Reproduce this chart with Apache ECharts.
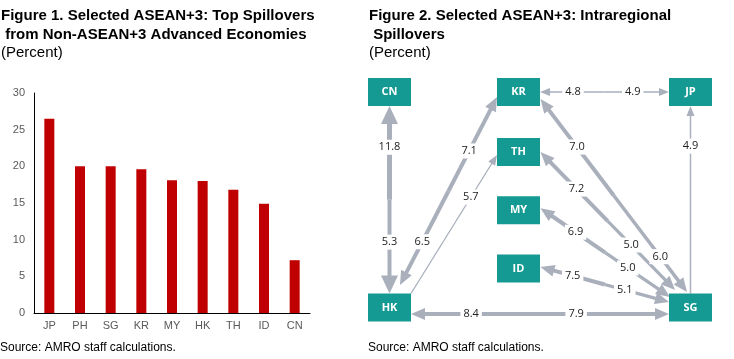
<!DOCTYPE html>
<html><head><meta charset="utf-8">
<script src="https://cdn.jsdelivr.net/npm/echarts@6/dist/echarts.min.js"></script>
<style>html,body{margin:0;padding:0;background:#fff}#c{width:734px;height:359px}</style>
</head><body><div id="c"></div>
<script>
// ---- Figure 1 data ----
const categories = ['JP','PH','SG','KR','MY','HK','TH','ID','CN'];
const spillovers = [26.5, 20.0, 20.0, 19.6, 18.1, 18.0, 16.8, 14.9, 7.2];
const yTicks = [0, 5, 10, 15, 20, 25, 30];

// ---- Figure 2 data ----
const nodes = ['CN','KR','JP','TH','MY','ID','HK','SG'];
const linkSources = ['HK','CN','JP','KR','SG','HK','KR','HK','SG','KR','SG','TH','SG','MY','SG','ID','SG','HK'];
const linkTargets = ['CN','HK','KR','JP','JP','KR','HK','TH','KR','SG','TH','SG','MY','SG','ID','SG','HK','SG'];
const linkValues  = [11.8, 5.3, 4.8, 4.9, 4.9, 7.1, 6.5, 5.7, 7.0, 6.0, 7.2, 5.0, 6.9, 5.0, 7.5, 5.1, 8.4, 7.9];

// ---- layout / style (not data) ----
const nodePos = {CN:[0,0], KR:[3,0], JP:[7,0], TH:[3,2.05], MY:[3,4.03], ID:[3,6.02], HK:[0,7.35], SG:[7,7.35]};
// anchor offsets (px from node centre) where each connector meets a node
const anchors = {
  'CN|HK': {CN:[0,14], HK:[0,-14]},
  'JP|KR': {KR:[21.5,0], JP:[-21.5,0]},
  'JP|SG': {JP:[0,14], SG:[0,-14]},
  'HK|KR': {HK:[10.5,-22.5], KR:[-21.5,5]},
  'HK|TH': {HK:[21.5,-14], TH:[-21.5,3]},
  'KR|SG': {KR:[22,7], SG:[-3.5,-15.5]},
  'SG|TH': {TH:[22,0], SG:[-15.5,-17.5]},
  'MY|SG': {MY:[22,-2], SG:[-20.5,-10.5]},
  'ID|SG': {ID:[22,-1.5], SG:[-21.5,-5.5]},
  'HK|SG': {HK:[21.5,6.5], SG:[-21.5,6.5]}
};
// per link: line width, arrow head [length, width], label position (fraction from arrow tip)
const linkStyle = [
  {w:5, head:[18,17], t:0.22}, {w:4, head:[18,17], t:0.274},
  {w:1.5, head:[10,8], t:0.256}, {w:1.5, head:[10,8], t:0.281},
  {w:1.5, head:[10,8], t:0.214},
  {w:4, head:[14,12], t:0.287}, {w:4, head:[14,12], t:0.23},
  {w:1.3, head:[10,8], t:0.304},
  {w:4, head:[14,12], t:0.249}, {w:3.5, head:[14,12], t:0.183},
  {w:4, head:[14,12], t:0.268}, {w:3.2, head:[14,12], t:0.326},
  {w:4, head:[14,12], t:0.271}, {w:3.2, head:[14,12], t:0.326},
  {w:4, head:[14,12], t:0.25}, {w:3.2, head:[14,12], t:0.344},
  {w:4, head:[14,12], t:0.233}, {w:4, head:[14,12], t:0.36}
];
const LINE = '#A9B0BC';
const TEAL = '#159A93';
const BOX = [43, 28];

function pairKey(a, b) { return [a, b].sort().join('|'); }

function geom(i, api) {
  const s = linkSources[i], t = linkTargets[i];
  const anc = anchors[pairKey(s, t)];
  const cs = api.coord(nodePos[s]), ct = api.coord(nodePos[t]);
  const A = [cs[0] + anc[s][0], cs[1] + anc[s][1]];
  const B = [ct[0] + anc[t][0], ct[1] + anc[t][1]];
  let bidir = false;
  for (let k = 0; k < linkSources.length; k++) if (linkSources[k] === t && linkTargets[k] === s) bidir = true;
  return {A, B, bidir};
}

function renderLink(params, api) {
  const i = api.value(2);
  const st = linkStyle[i];
  const {A, B, bidir} = geom(i, api);
  const dx = B[0] - A[0], dy = B[1] - A[1], L = Math.hypot(dx, dy), ux = dx / L, uy = dy / L;
  const start = bidir ? [(A[0] + B[0]) / 2, (A[1] + B[1]) / 2] : A;
  const [hl, hw] = st.head;
  const base = [B[0] - ux * hl, B[1] - uy * hl];
  return {type: 'group', children: [
    {type: 'line', shape: {x1: start[0], y1: start[1], x2: base[0] + ux, y2: base[1] + uy},
     style: {stroke: LINE, lineWidth: st.w}},
    {type: 'polygon', shape: {points: [B, [base[0] - uy * hw / 2, base[1] + ux * hw / 2], [base[0] + uy * hw / 2, base[1] - ux * hw / 2]]},
     style: {fill: LINE}}
  ]};
}

function renderLinkLabel(params, api) {
  const i = api.value(2);
  const st = linkStyle[i];
  const {A, B} = geom(i, api);
  const x = B[0] - (B[0] - A[0]) * st.t, y = B[1] - (B[1] - A[1]) * st.t;
  return {type: 'text', x: x, y: y, style: {text: linkValues[i].toFixed(1), fill: '#222',
    font: '11px "Open Sans"', align: 'center', verticalAlign: 'middle',
    backgroundColor: '#fff', padding: [2, 3]}};
}

function renderNode(params, api) {
  const c = api.coord([api.value(0), api.value(1)]);
  return {type: 'group', children: [
    {type: 'rect', shape: {x: c[0] - BOX[0] / 2, y: c[1] - BOX[1] / 2, width: BOX[0], height: BOX[1]}, style: {fill: TEAL}},
    {type: 'text', x: c[0], y: c[1], style: {text: nodes[params.dataIndex], fill: '#fff',
      font: 'bold 11px "Open Sans"', align: 'center', verticalAlign: 'middle'}}
  ]};
}

const linkData = linkSources.map((s, i) => [nodePos[s][0], nodePos[s][1], i]);
const nodeData = nodes.map(n => [nodePos[n][0], nodePos[n][1]]);

const chart = echarts.init(document.getElementById('c'), null, {renderer: 'canvas'});
const titleFont = 'Liberation Sans';
const tStyle = {fontFamily: titleFont, fontSize: 15, fontWeight: 'bold', color: '#000', lineHeight: 18.3};
const sStyle = {fontFamily: titleFont, fontSize: 15, color: '#000', lineHeight: 18.3};
chart.setOption({
  animation: false,
  backgroundColor: '#fff',
  title: [
    {left: 1, top: 7, text: 'Figure 1. Selected ASEAN+3: Top Spillovers\n from Non-ASEAN+3 Advanced Economies',
     subtext: '(Percent)', itemGap: 0, padding: 0, textStyle: tStyle, subtextStyle: sStyle},
    {left: 369, top: 7, text: 'Figure 2. Selected ASEAN+3: Intraregional\n Spillovers',
     subtext: '(Percent)', itemGap: 0, padding: 0, textStyle: tStyle, subtextStyle: sStyle}
  ],
  graphic: [
    {type: 'text', left: 0, top: 342, style: {text: 'Source: AMRO staff calculations.', font: '12px "Liberation Sans"', fill: '#000'}},
    {type: 'text', left: 368, top: 342, style: {text: 'Source: AMRO staff calculations.', font: '12px "Liberation Sans"', fill: '#000'}}
  ],
  grid: [
    {left: 34, top: 93, width: 276, height: 220, containLabel: false, outerBoundsMode: 'none'},
    {left: 389.5, top: 92, width: 301, height: 215.5, containLabel: false, outerBoundsMode: 'none'}
  ],
  xAxis: [
    {type: 'category', data: categories, gridIndex: 0,
     axisLine: {lineStyle: {color: '#000', width: 1}}, axisTick: {show: false},
     axisLabel: {color: '#595959', fontSize: 11, fontFamily: 'Liberation Sans', margin: 7}},
    {type: 'value', gridIndex: 1, min: 0, max: 7, show: false}
  ],
  yAxis: [
    {type: 'value', gridIndex: 0, min: yTicks[0], max: yTicks[yTicks.length - 1], interval: yTicks[1] - yTicks[0],
     axisLine: {show: true, lineStyle: {color: '#000', width: 1}}, axisTick: {show: false}, splitLine: {show: false},
     axisLabel: {color: '#595959', fontSize: 11, fontFamily: 'Liberation Sans', margin: 9}},
    {type: 'value', gridIndex: 1, min: 0, max: 7.35, inverse: true, show: false}
  ],
  series: [
    {type: 'bar', xAxisIndex: 0, yAxisIndex: 0, data: spillovers, barWidth: 10, itemStyle: {color: '#C00000'}},
    {type: 'custom', xAxisIndex: 1, yAxisIndex: 1, data: linkData, renderItem: renderLink, z: 2, silent: true},
    {type: 'custom', xAxisIndex: 1, yAxisIndex: 1, data: linkData, renderItem: renderLinkLabel, z: 3, silent: true},
    {type: 'custom', xAxisIndex: 1, yAxisIndex: 1, data: nodeData, renderItem: renderNode, z: 4, silent: true}
  ]
});
</script></body></html>
